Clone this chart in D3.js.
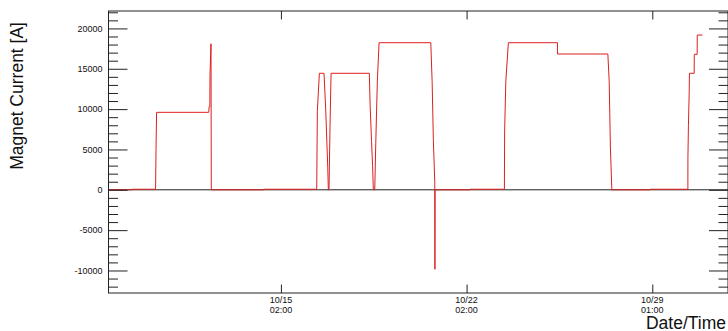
<!DOCTYPE html>
<html>
<head>
<meta charset="utf-8">
<script src="https://cdn.jsdelivr.net/npm/d3@7"></script>
<style>
  html, body { margin: 0; padding: 0; background: #fff; }
  svg { display: block; font-family: "Liberation Sans", Arial, sans-serif; }
</style>
</head>
<body>
<div id="chart"></div>
<script>
// Magnet current log (times in UTC)
const times = [
  "2009-10-08 12:00", "2009-10-09 09:30", "2009-10-09 09:31", "2009-10-10 06:36",
  "2009-10-10 07:00", "2009-10-10 07:30", "2009-10-12 06:42", "2009-10-12 07:00",
  "2009-10-12 07:40", "2009-10-12 07:50", "2009-10-12 08:20", "2009-10-12 08:45",
  "2009-10-12 09:00", "2009-10-14 08:18", "2009-10-14 08:20", "2009-10-16 08:24",
  "2009-10-16 08:58", "2009-10-16 10:48", "2009-10-16 15:00", "2009-10-16 16:34",
  "2009-10-16 18:22", "2009-10-16 18:55", "2009-10-16 19:30", "2009-10-16 20:26",
  "2009-10-16 21:22", "2009-10-18 08:00", "2009-10-18 08:40", "2009-10-18 10:00",
  "2009-10-18 10:55", "2009-10-18 11:38", "2009-10-18 12:54", "2009-10-18 13:48",
  "2009-10-18 15:15", "2009-10-18 16:48", "2009-10-20 15:36", "2009-10-20 16:48",
  "2009-10-20 17:56", "2009-10-20 19:12", "2009-10-20 19:20", "2009-10-20 19:30",
  "2009-10-22 03:10", "2009-10-22 03:12", "2009-10-23 10:12", "2009-10-23 10:24",
  "2009-10-23 11:30", "2009-10-23 13:48", "2009-10-25 10:12", "2009-10-25 10:14",
  "2009-10-27 07:48", "2009-10-27 09:00", "2009-10-27 10:06", "2009-10-27 11:24",
  "2009-10-28 22:00", "2009-10-28 22:02", "2009-10-30 08:12", "2009-10-30 08:14",
  "2009-10-30 08:42", "2009-10-30 09:24", "2009-10-30 09:36", "2009-10-30 13:54",
  "2009-10-30 14:00", "2009-10-30 16:36", "2009-10-30 16:40", "2009-10-30 21:24"
];
const current = [
  0, 0, 70, 70,
  5000, 9600, 9600, 10300,
  10300, 14100, 16600, 18100,
  0, 0, 70, 70,
  9800, 14440, 14440, 9800,
  2800, 0, 0, 8000,
  14440, 14440, 10600, 6000,
  3000, 0, 0, 5700,
  13500, 18230, 18230, 13500,
  6100, 1000, -9850, 0,
  0, 70, 70, 7300,
  13500, 18230, 18230, 16830,
  16830, 13500, 5300, 0,
  0, 70, 70, 3900,
  8000, 12100, 14440, 14440,
  16790, 16790, 19180, 19180
];

// axis ticks: UTC midnight, labelled in local time
const xTicks = ["2009-10-15 00:00", "2009-10-22 00:00", "2009-10-29 00:00"];
const xTickLabels = [["10/15", "02:00"], ["10/22", "02:00"], ["10/29", "01:00"]];
const yTicks = [-10000, -5000, 0, 5000, 10000, 15000, 20000];
const xDomain = ["2009-10-08 12:00", "2009-10-31 20:30"];
const yDomain = [-12790, 22160];

const width = 728, height = 331;
const frame = { left: 108.5, right: 728, top: 11, bottom: 293 };

const parse = d3.utcParse("%Y-%m-%d %H:%M");
const data = times.map((t, i) => ({ t: parse(t), v: current[i] }));

const x = d3.scaleUtc()
  .domain(xDomain.map(parse))
  .range([frame.left, frame.right]);
const y = d3.scaleLinear()
  .domain(yDomain)
  .range([frame.bottom, frame.top]);

const svg = d3.select('#chart')
  .append('svg')
  .attr('width', width)
  .attr('height', height);

// zero line under the data
svg.append('line')
  .attr('x1', frame.left).attr('x2', frame.right)
  .attr('y1', y(0)).attr('y2', y(0))
  .attr('stroke', '#222')
  .attr('stroke-width', 1);

// data trace
const line = d3.line()
  .x(d => x(d.t))
  .y(d => y(d.v));

svg.append('path')
  .datum(data)
  .attr('d', line)
  .attr('fill', 'none')
  .attr('stroke', '#de1f1f')
  .attr('stroke-width', 1);

// frame
svg.append('rect')
  .attr('x', frame.left).attr('y', frame.top)
  .attr('width', frame.right - frame.left)
  .attr('height', frame.bottom - frame.top)
  .attr('fill', 'none')
  .attr('stroke', '#222')
  .attr('stroke-width', 1);

// y ticks, major + 4 minor per interval, on both sides
const yMinor = d3.range(-12000, 22001, 1000).filter(v => v % 5000 !== 0);
const yAxisL = d3.axisLeft(y).tickValues(yTicks).tickSize(-19).tickFormat('');
const yAxisR = d3.axisRight(y).tickValues(yTicks).tickSize(-19).tickFormat('');
const yMinorL = d3.axisLeft(y).tickValues(yMinor).tickSize(-9.5).tickFormat('');
const yMinorR = d3.axisRight(y).tickValues(yMinor).tickSize(-9.5).tickFormat('');

[[yAxisL, frame.left], [yMinorL, frame.left], [yAxisR, frame.right], [yMinorR, frame.right]]
  .forEach(([ax, pos]) => {
    const g = svg.append('g').attr('transform', `translate(${pos},0)`).call(ax);
    g.select('.domain').remove();
    g.selectAll('line').attr('stroke', '#222');
  });

// y tick labels
svg.append('g')
  .selectAll('text')
  .data(yTicks)
  .enter()
  .append('text')
  .attr('x', frame.left - 6)
  .attr('y', d => y(d) + 3.2)
  .attr('text-anchor', 'end')
  .attr('font-size', '9px')
  .attr('fill', '#111')
  .text(d => d);

// x ticks top and bottom
const xTickDates = xTicks.map(parse);
const xAxisB = d3.axisBottom(x).tickValues(xTickDates).tickSize(-8.5).tickFormat('');
const xAxisT = d3.axisTop(x).tickValues(xTickDates).tickSize(-8.5).tickFormat('');
[[xAxisB, frame.bottom], [xAxisT, frame.top]].forEach(([ax, pos]) => {
  const g = svg.append('g').attr('transform', `translate(0,${pos})`).call(ax);
  g.select('.domain').remove();
  g.selectAll('line').attr('stroke', '#222');
});

// x tick labels (two lines)
const xLabels = svg.append('g')
  .selectAll('text')
  .data(xTickDates)
  .enter()
  .append('text')
  .attr('text-anchor', 'middle')
  .attr('font-size', '9px')
  .attr('fill', '#111');
xLabels.each(function(d, i) {
  const el = d3.select(this);
  xTickLabels[i].forEach((s, k) => {
    el.append('tspan')
      .attr('x', x(d))
      .attr('y', 302.5 + k * 10.3)
      .text(s);
  });
});

// axis titles
svg.append('text')
  .attr('transform', 'translate(23,22) rotate(-90)')
  .attr('text-anchor', 'end')
  .attr('font-size', '17.5px')
  .attr('fill', '#111')
  .text('Magnet Current [A]');

svg.append('text')
  .attr('x', 726)
  .attr('y', 329)
  .attr('text-anchor', 'end')
  .attr('font-size', '17.5px')
  .attr('fill', '#111')
  .text('Date/Time');
</script>
</body>
</html>
